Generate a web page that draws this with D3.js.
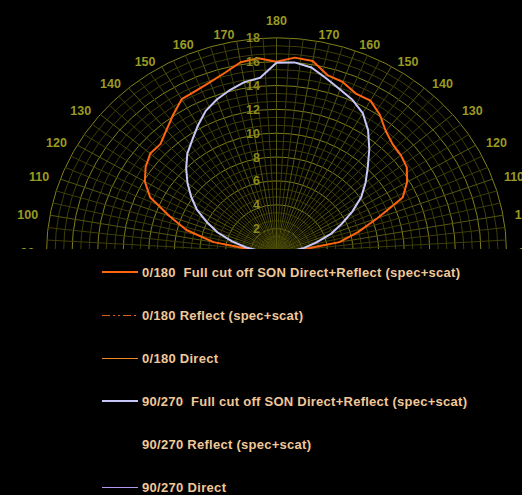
<!DOCTYPE html>
<html>
<head>
<meta charset="utf-8">
<script src="https://cdn.jsdelivr.net/npm/d3@7"></script>
<style>
html,body{margin:0;padding:0;background:#000;}
svg{display:block;}
</style>
</head>
<body>
<svg id="chart" width="522" height="495"></svg>
<script>
// ---- data ----
const gammaAngles = [90,95,100,105,110,115,120,125,130,135,140,145,150,155,160,165,170,175,180];
// C0/C180 plane (orange) – left half and right half of the diagram
const planeA_left  = [0.5,1.5,5.0,7.3,8.9,10.9,11.9,12.5,12.9,12.85,13.4,14.1,14.84,14.95,15.2,15.6,16.2,16.35,16.0];
const planeA_right = [0.5,1.5,5.0,6.6,8.4,10.9,11.8,12.45,12.7,12.85,13.3,14.1,14.7,14.7,15.2,15.4,16.3,16.4,16.0];
// C90/C270 plane (lavender)
const planeB_left  = [0.5,1.2,2.4,3.6,4.9,6.0,7.2,8.15,9.1,10.0,10.85,11.5,12.3,13.1,13.65,14.1,14.5,14.7,15.9];
const planeB_right = [0.5,1.1,2.2,3.2,4.5,5.6,6.85,8.1,9.1,10.1,11.3,12.5,13.5,14.1,14.55,15.1,15.75,16.0,15.95];

const ringLabels = [2,4,6,8,10,12,14,16,18];
const angleLabels = [90,100,110,120,130,140,150,160,170];

const legendLabels = [
  "0/180  Full cut off SON Direct+Reflect (spec+scat)",
  "0/180 Reflect (spec+scat)",
  "0/180 Direct",
  "90/270  Full cut off SON Direct+Reflect (spec+scat)",
  "90/270 Reflect (spec+scat)",
  "90/270 Direct"
];
const legendWidths = [318,161,76,325,169,84];

// ---- styles ----
const legendStyles = [
  {stroke:"#ff6410", width:2, dash:null},
  {stroke:"#e06018", width:1, dash:"8,3,2,3,2,3"},
  {stroke:"#f08820", width:1, dash:null},
  {stroke:"#c8c8f8", width:2, dash:null},
  {stroke:null, width:0, dash:null},
  {stroke:"#b498f4", width:1, dash:null}
];

const svg = d3.select("#chart");
const cx = 276.5, cy = 252.5;
const rX = d3.scaleLinear().domain([0,18]).range([0,230]);
const rY = d3.scaleLinear().domain([0,18]).range([0,214.7]);
const toRad = d3.scaleLinear().domain([0,180]).range([0,Math.PI]);

function px(gamma, v, side){ const p = toRad(180-gamma); return cx + side*rX(v)*Math.sin(p); }
function py(gamma, v){ const p = toRad(180-gamma); return cy - rY(v)*Math.cos(p); }

svg.append("defs").append("clipPath").attr("id","clip")
  .append("rect").attr("x",0).attr("y",0).attr("width",522).attr("height",249);

const g = svg.append("g").attr("clip-path","url(#clip)");

// rings
const ringVals = d3.range(1,28).map(i=>+(i*2/3).toFixed(4));
const gridG = g.append("g");
ringVals.forEach(v=>{
  const major = Math.abs(v/2 - Math.round(v/2))<1e-3;
  gridG.append("ellipse").attr("cx",cx).attr("cy",cy).attr("rx",rX(v)).attr("ry",rY(v))
    .attr("fill","none")
    .attr("stroke", major ? "#80801a" : "#3e3e06")
    .attr("stroke-width",1);
});
// radial lines
const radialAngles = d3.range(0,28).map(i=>90+i*10/3);
radialAngles.forEach(a=>{
  [-1,1].forEach(side=>{
    const major = Math.abs((a-90)/10 - Math.round((a-90)/10))<1e-3;
    gridG.append("line")
      .attr("x1",cx).attr("y1",cy)
      .attr("x2",px(a,18,side)).attr("y2",py(a,18))
      .attr("stroke", major ? "#555510" : "#3e3e06")
      .attr("stroke-width",1);
  });
});

// curves
const line = d3.line().x(d=>d[0]).y(d=>d[1]);
function curvePts(left,right){
  const pts = [];
  gammaAngles.forEach((a,i)=>pts.push([px(a,left[i],-1),py(a,left[i])]));
  for(let i=gammaAngles.length-2;i>=0;i--) pts.push([px(gammaAngles[i],right[i],1),py(gammaAngles[i],right[i])]);
  return pts;
}
g.append("path").attr("d",line(curvePts(planeA_left,planeA_right)))
  .attr("fill","none").attr("stroke","#ff6410").attr("stroke-width",2).attr("stroke-linejoin","round");
g.append("path").attr("d",line(curvePts(planeB_left,planeB_right)))
  .attr("fill","none").attr("stroke","#c8c8f8").attr("stroke-width",2).attr("stroke-linejoin","round");

const fontFam = "'Liberation Sans',Arial,sans-serif";
// ring labels
g.selectAll("text.ring").data(ringLabels).enter().append("text")
  .attr("x",260).attr("y",d=>cy-rY(d)).attr("dy","0.36em")
  .attr("text-anchor","end")
  .style("font-family",fontFam).style("font-weight","bold").style("font-size","12.5px")
  .attr("fill","#8c8c1a").text(d=>d);

// angle labels
angleLabels.forEach(a=>{
  [-1,1].forEach(side=>{
    const p = toRad(180-a);
    g.append("text")
      .attr("x", cx + side*242*Math.sin(p))
      .attr("y", cy - 221*Math.cos(p)).attr("dy","0.36em")
      .attr("text-anchor", side<0 ? "end":"start")
      .style("font-family",fontFam).style("font-weight","bold").style("font-size","12.5px")
      .attr("fill","#9a9a22").text(a);
  });
});
g.append("text").attr("x",cx).attr("y",20).attr("dy","0.36em").attr("text-anchor","middle")
  .style("font-family",fontFam).style("font-weight","bold").style("font-size","12.5px")
  .attr("fill","#9a9a22").text(180);

// legend
const lg = svg.append("g");
const rowY = d3.scalePoint().domain(d3.range(6)).range([270,488]).round(true);
legendLabels.forEach((t,i)=>{
  const s = legendStyles[i];
  const yy = rowY(i) + (s.width===1 ? 0.5 : 0);
  if(s.stroke){
    lg.append("line").attr("x1",102).attr("x2",138).attr("y1",yy).attr("y2",yy)
      .attr("stroke",s.stroke).attr("stroke-width",s.width).attr("stroke-dasharray",s.dash);
  }
  lg.append("text").attr("x",142).attr("y",rowY(i)).attr("dy","0.36em")
    .attr("xml:space","preserve").style("white-space","pre")
    .attr("textLength",legendWidths[i]).attr("lengthAdjust","spacing")
    .style("font-family",fontFam).style("font-weight","bold").style("font-size","13px")
    .attr("fill","#f0c898").text(t);
});
</script>
</body>
</html>
